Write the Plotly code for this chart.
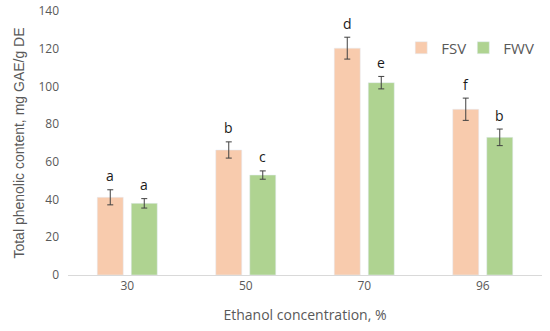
import plotly.graph_objects as go

categories = ["30", "50", "70", "96"]
fsv_values = [41.2, 66.3, 120.3, 87.9]
fsv_errors = [4.0, 4.3, 5.8, 5.9]
fwv_values = [38.0, 53.0, 102.0, 73.0]
fwv_errors = [2.5, 2.2, 3.3, 4.4]
fsv_letters = ["a", "b", "d", "f"]
fwv_letters = ["a", "c", "e", "b"]

fig = go.Figure()
fig.add_trace(go.Bar(
    name="FSV", x=categories, y=fsv_values, marker_color="#F8CBAD", legend="legend",
    error_y=dict(type="data", array=fsv_errors, color="#404040", thickness=1, width=3),
))
fig.add_trace(go.Bar(
    name="FWV", x=categories, y=fwv_values, marker_color="#AFD391", legend="legend2",
    error_y=dict(type="data", array=fwv_errors, color="#404040", thickness=1, width=3),
))

for i, (v, e, t) in enumerate(zip(fsv_values, fsv_errors, fsv_letters)):
    fig.add_annotation(x=i, y=v + e, text=t, showarrow=False, xshift=-17, yshift=14,
                       yanchor="middle", font=dict(family="Open Sans", size=14, color="#1a1a1a"))
for i, (v, e, t) in enumerate(zip(fwv_values, fwv_errors, fwv_letters)):
    fig.add_annotation(x=i, y=v + e, text=t, showarrow=False, xshift=17, yshift=14,
                       yanchor="middle", font=dict(family="Open Sans", size=14, color="#1a1a1a"))

legend_style = dict(orientation="h", y=0.86, xanchor="left", yanchor="middle",
                    font=dict(family="Open Sans", size=15, color="#595959"),
                    bgcolor="rgba(0,0,0,0)", itemwidth=30)

fig.update_layout(
    width=550, height=331,
    margin=dict(l=68, r=8, t=11, b=56, autoexpand=False),
    paper_bgcolor="white", plot_bgcolor="white",
    barmode="group", bargap=0.426, bargroupgap=0.235,
    showlegend=True,
    legend=dict(x=0.703, **legend_style),
    legend2=dict(x=0.834, **legend_style),
    font=dict(family="Open Sans", color="#595959"),
    xaxis=dict(type="category", range=[-0.5, 3.5], automargin=False, showline=True,
               linecolor="#D9D9D9", linewidth=1, ticks="",
               tickfont=dict(size=12, color="#595959"),
               title=dict(text="Ethanol concentration, %", font=dict(size=14, color="#595959"), standoff=16)),
    yaxis=dict(range=[0, 140], dtick=20, automargin=False, showgrid=False, zeroline=False, showline=False,
               tickfont=dict(size=12, color="#595959"), ticks="", ticklabelstandoff=8,
               title=dict(text="Total phenolic content, mg GAE/g DE",
                          font=dict(family="Liberation Sans", size=14, color="#595959"), standoff=10)),
)

fig.write_html("out.html", config={"displayModeBar": False},
               post_script="document.body.style.margin='0';")
